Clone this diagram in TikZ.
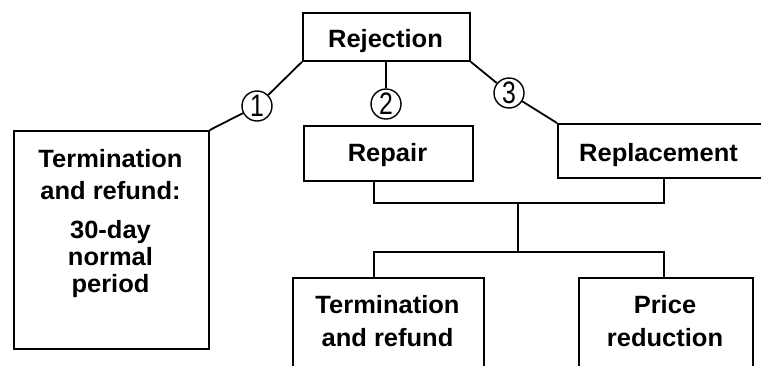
\documentclass[tikz,border=0pt]{standalone}
\usepackage{fontspec}
\setmainfont{Liberation Sans}[FakeStretch=1.02]
\newfontfamily\digitfont{Liberation Sans}[FakeStretch=0.8]
\begin{document}
\begin{tikzpicture}[x=1pt,y=-1pt,
  box/.style={draw=black, line width=1.8pt, rectangle, inner sep=0pt, anchor=north west},
  txt/.style={font=\fontsize{25}{24}\selectfont\bfseries, align=center, inner sep=0pt},
  num/.style={draw=black, line width=1.4pt, circle, minimum size=30pt, inner sep=0pt, font=\fontsize{31}{31}\selectfont\digitfont},
  conn/.style={draw=black, line width=1.8pt}]
\clip (0,0) rectangle (761,365);
\fill[white] (0,0) rectangle (761,365);
% boxes
\node[box, minimum width=167pt, minimum height=48pt] (rej) at (302,12) {};
\node[box, minimum width=195pt, minimum height=218pt] (left) at (13,130) {};
\node[box, minimum width=169pt, minimum height=55pt] (repair) at (303,125) {};
\node[box, minimum width=260pt, minimum height=54pt] (repl) at (557,123) {};
\node[box, minimum width=191pt, minimum height=150pt] (term) at (292,277) {};
\node[box, minimum width=174pt, minimum height=150pt] (price) at (578,277) {};
% texts
\node[txt, anchor=base] (rejT) at (385.5,47) {Rejection};
\node[txt, anchor=base] (repairT) at (387.5,161) {Repair};
\node[txt, anchor=base west] (replT) at (579,161) {Replacement};
\node[txt, anchor=north] (leftT) at (110.5,149) {Termination\\[8pt]and refund:\\[15pt]30-day\\[3pt]normal\\[3pt]period};
\node[txt, anchor=north] (termT) at (387.5,295) {Termination\\[9pt]and refund};
\node[txt, anchor=north] (priceT) at (665,295) {Price\\[9pt]reduction};
% circled numbers
\node[num] (c1) at (257,106) {1};
\node[num] (c2) at (386,104) {2};
\node[num] (c3) at (509,93) {3};
% connectors
\draw[conn] (rej.south west) -- (c1);
\draw[conn] (c1) -- (left.north east);
\draw[conn] (rej.south -| c2) -- (c2);
\draw[conn] (rej.south east) -- (c3);
\draw[conn] (c3) -- (repl.north west);
\coordinate (j1) at (518,203);
\coordinate (j2) at (518,252);
\coordinate (xl) at (374,0);
\coordinate (xr) at (664,0);
\draw[conn] (repair.south -| xl) |- (j1) -| (repl.south -| xr);
\draw[conn] (j1) -- (j2);
\draw[conn] (term.north -| xl) |- (j2) -| (price.north -| xr);
\end{tikzpicture}
\end{document}
